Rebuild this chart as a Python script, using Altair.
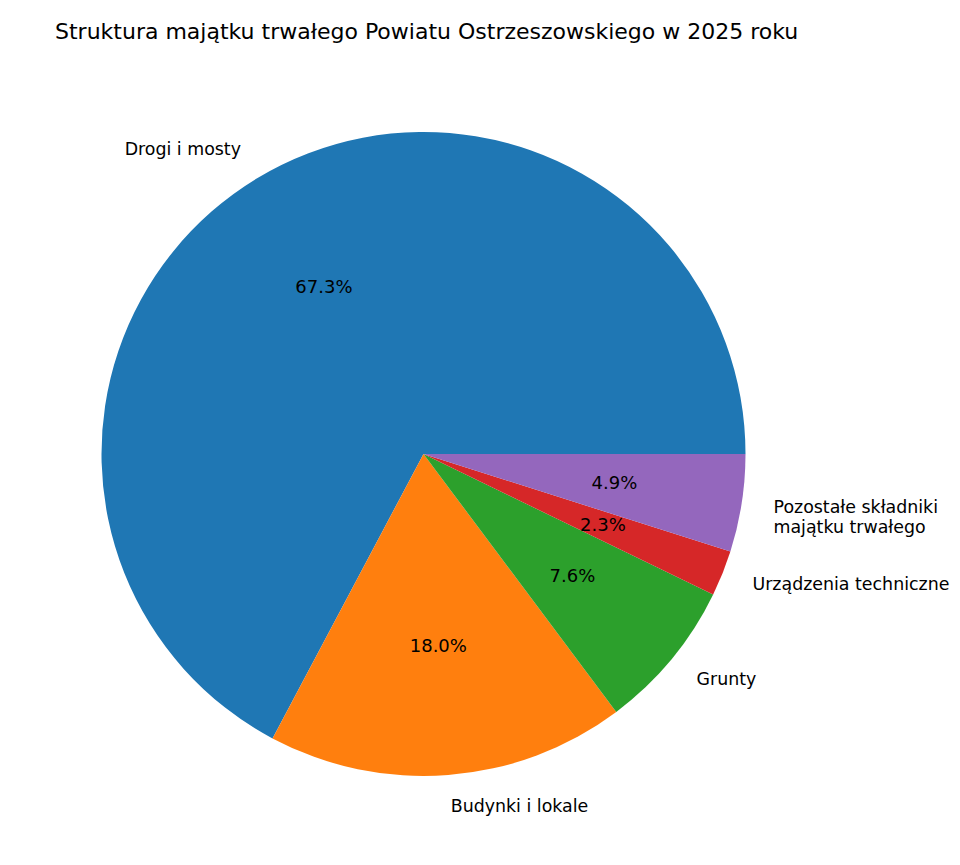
import altair as alt
import pandas as pd

categories = ["Drogi i mosty", "Budynki i lokale", "Grunty", "Urządzenia techniczne", "Pozostałe składniki\nmajątku trwałego"]
values = [67.3, 18.0, 7.6, 2.3, 4.9]
colors = ["#1f77b4", "#ff7f0e", "#2ca02c", "#d62728", "#9467bd"]
label_side = ["right", "left", "left", "left", "left"]

df = pd.DataFrame({
    "cat": categories,
    "value": values,
    "ord": [5, 4, 3, 2, 1],
    "side": label_side,
})

R = 322
FONT = "DejaVu Sans"
FS = 18
LFS = 17.4

base = alt.Chart(df).transform_calculate(
    pct="format(datum.value, '.1f') + '%'",
    lab_l="datum.side == 'left' ? datum.cat : ''",
    lab_r="datum.side == 'right' ? datum.cat : ''",
).encode(
    theta=alt.Theta("value:Q", stack=True,
                    scale=alt.Scale(range=[1.5707963, 7.8539816])),
    order=alt.Order("ord:Q", sort="ascending"),
)

pie = base.mark_arc(outerRadius=R).encode(
    color=alt.Color("cat:N", scale=alt.Scale(domain=categories, range=colors), legend=None)
)

pct = base.mark_text(radius=R * 0.6, font=FONT, fontSize=FS, color="black").encode(
    text="pct:N"
)

lab_left = base.mark_text(radius=R * 1.1, font=FONT, fontSize=LFS, color="black",
                          align="left", baseline="middle", lineBreak="\n").encode(
    text="lab_l:N"
)

lab_right = base.mark_text(radius=R * 1.1, font=FONT, fontSize=LFS, color="black",
                           align="right", baseline="middle", lineBreak="\n").encode(
    text="lab_r:N"
)

chart = alt.layer(pie, pct, lab_left, lab_right).properties(
    width=831,
    height=812,
    title=alt.TitleParams(
        "Struktura majątku trwałego Powiatu Ostrzeszowskiego w 2025 roku",
        anchor="start", dx=47, offset=4, font=FONT, fontSize=22,
        fontWeight="normal", color="black",
    ),
    autosize=alt.AutoSizeParams(type="none"),
    padding={"left": 0, "top": 40, "right": 113, "bottom": 0},
).configure_view(stroke=None)

chart.save("out.html", embed_options={"renderer": "svg", "actions": False})
